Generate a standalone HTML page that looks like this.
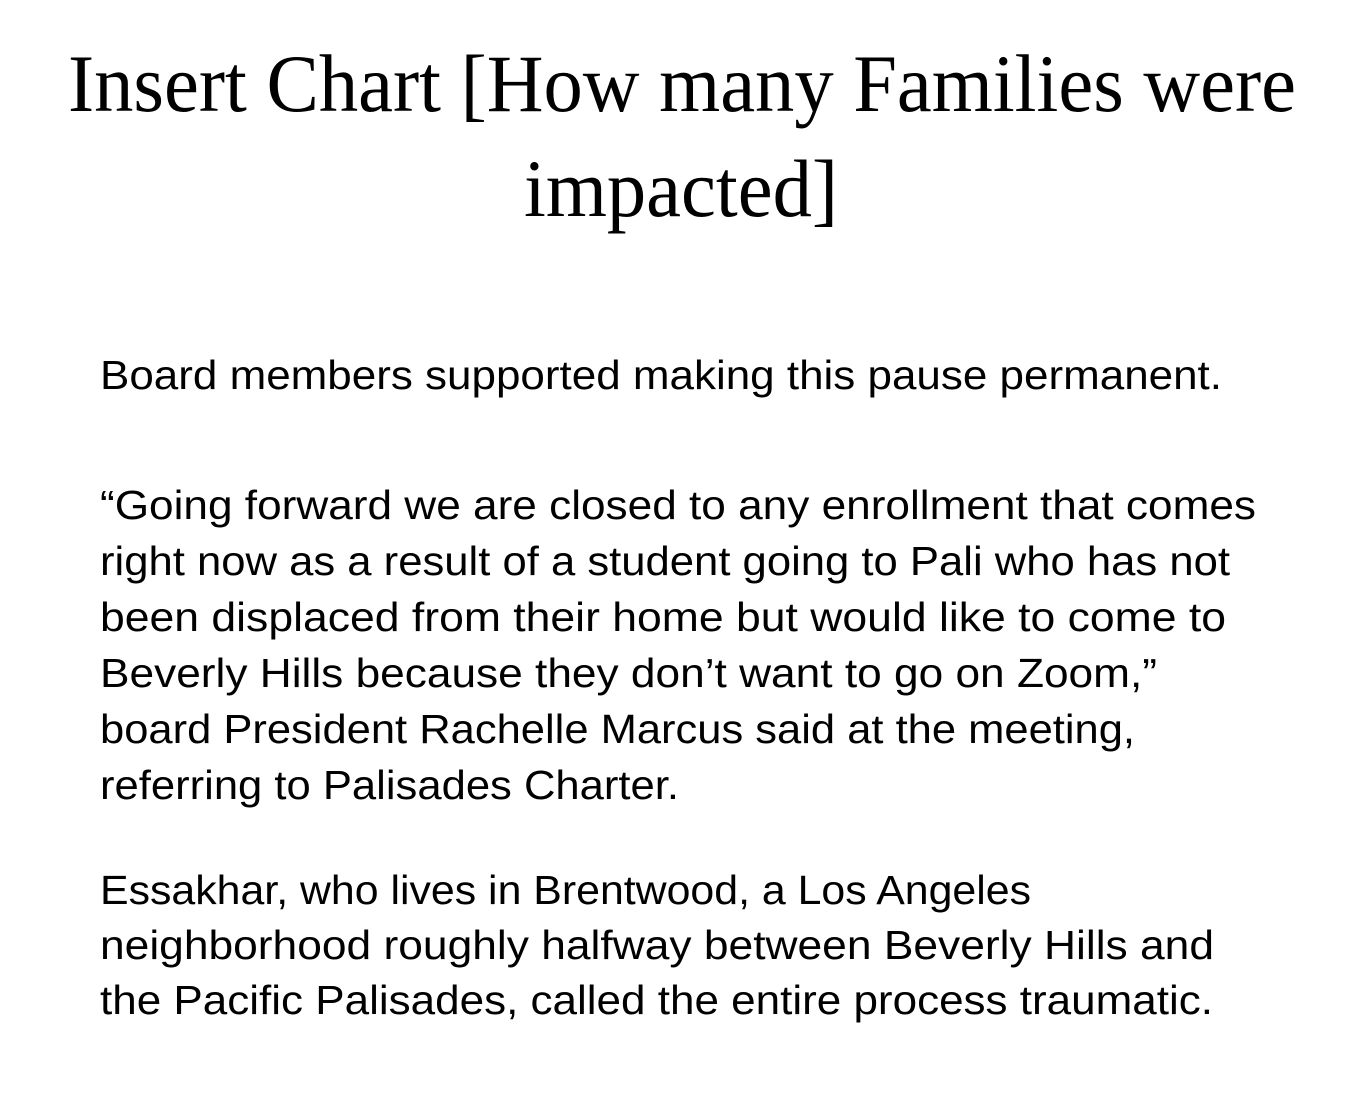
<!DOCTYPE html>
<html><head><meta charset="utf-8">
<style>
html,body{margin:0;padding:0;background:#fff;width:1366px;height:1107px;overflow:hidden;position:relative}
h1{font-weight:normal}
.t{position:absolute;font-family:"Liberation Serif",serif;font-weight:normal;font-size:82px;line-height:82px;white-space:nowrap;color:#000;transform-origin:0 0}
.b{position:absolute;font-family:"Liberation Sans",sans-serif;font-size:41px;line-height:41px;white-space:nowrap;color:#000;transform-origin:0 0}
</style></head><body>
<h1 style="margin:0">
<div class="t" data-x="68" data-w="1228" data-base="112">Insert Chart [How many Families were</div>
<div class="t" data-x="524" data-w="314" data-base="217">impacted]</div>
</h1>
<div>
<div class="b" data-x="100" data-w="1122" data-base="390">Board members supported making this pause permanent.</div>
</div>
<div>
<div class="b" data-x="100" data-w="1156" data-base="520">“Going forward we are closed to any enrollment that comes</div>
<div class="b" data-x="100" data-w="1130" data-base="576">right now as a result of a student going to Pali who has not</div>
<div class="b" data-x="100" data-w="1126" data-base="632">been displaced from their home but would like to come to</div>
<div class="b" data-x="100" data-w="1057" data-base="688">Beverly Hills because they don’t want to go on Zoom,”</div>
<div class="b" data-x="100" data-w="1035" data-base="744">board President Rachelle Marcus said at the meeting,</div>
<div class="b" data-x="100" data-w="579" data-base="800">referring to Palisades Charter.</div>
</div>
<div>
<div class="b" data-x="100" data-w="931" data-base="905">Essakhar, who lives in Brentwood, a Los Angeles</div>
<div class="b" data-x="100" data-w="1114" data-base="960">neighborhood roughly halfway between Beverly Hills and</div>
<div class="b" data-x="100" data-w="1113" data-base="1015">the Pacific Palisades, called the entire process traumatic.</div>
</div>
<script>
document.querySelectorAll('.t,.b').forEach(function(el){
  var fs=parseFloat(getComputedStyle(el).fontSize);
  var serif=el.classList.contains('t');
  var off=serif?0.8375*fs:0.8465*fs;
  el.style.left=el.dataset.x+'px';
  el.style.top=(parseFloat(el.dataset.base)-off)+'px';
  var w=el.getBoundingClientRect().width;
  var s=parseFloat(el.dataset.w)/w;
  el.style.transform='scaleX('+s+')';
});
</script>
</body></html>
